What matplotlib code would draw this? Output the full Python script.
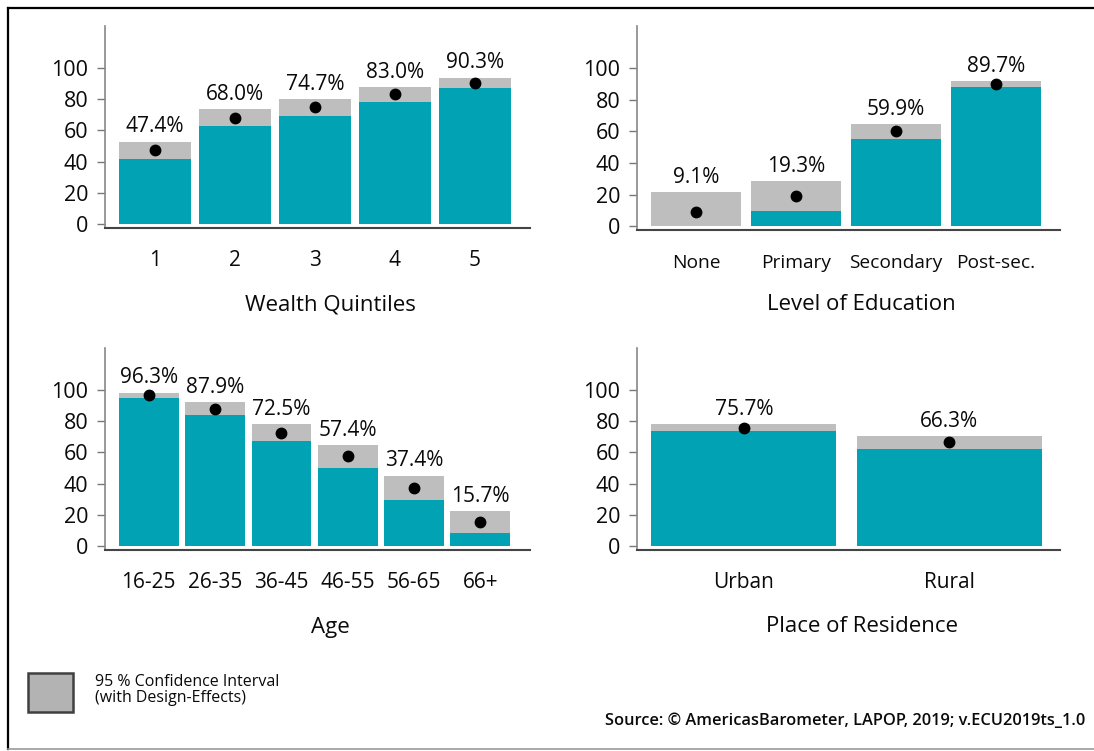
import matplotlib
matplotlib.use("Agg")
import matplotlib.pyplot as plt
from matplotlib import font_manager
from matplotlib.lines import Line2D
from matplotlib.patches import Rectangle
import numpy as np

plt.rcParams['font.family'] = ['Open Sans', 'DejaVu Sans']

# data (mean, lower / upper 95% CI)
wealth_labels = ['1', '2', '3', '4', '5']
wealth_mean = [47.4, 68.0, 74.7, 83.0, 90.3]
wealth_low = [41.8, 62.5, 69.3, 78.2, 86.7]
wealth_high = [52.8, 73.3, 79.7, 87.6, 93.6]

edu_labels = ['None', 'Primary', 'Secondary', 'Post-sec.']
edu_mean = [9.1, 19.3, 59.9, 89.7]
edu_low = [0.0, 9.8, 55.2, 87.7]
edu_high = [21.5, 28.7, 64.4, 91.5]

age_labels = ['16-25', '26-35', '36-45', '46-55', '56-65', '66+']
age_mean = [96.3, 87.9, 72.5, 57.4, 37.4, 15.7]
age_low = [94.5, 83.7, 67.1, 50.3, 29.5, 8.7]
age_high = [98.1, 92.1, 77.9, 64.5, 45.2, 22.5]

res_labels = ['Urban', 'Rural']
res_mean = [75.7, 66.3]
res_low = [73.5, 62.2]
res_high = [78.1, 70.5]

TEAL = '#00a2b3'
GREY = '#bebebe'
INK = '#0a0a0a'
W, H = 1094, 751

fig = plt.figure(figsize=(W / 100, H / 100), dpi=100)
fig.patch.set_facecolor('white')


def px_axes(left, top, right, bottom):
    return fig.add_axes([left / W, 1 - bottom / H, (right - left) / W, (bottom - top) / H])


def panel(ax, labels, mean, low, high, xlim, title, tick_size=15, tick_pad=16,
          width_px=425, height_px=202, title_drop=77):
    x = np.arange(len(labels))
    low = np.array(low)
    high = np.array(high)
    ax.bar(x, low, width=0.9, color=TEAL, edgecolor='none')
    ax.bar(x, high - low, bottom=low, width=0.9, color=GREY, edgecolor='none')
    ax.plot(x, mean, 'o', color='black', markersize=7.5, zorder=3)
    for xi, m, h in zip(x, mean, high):
        ax.annotate(f'{m:.1f}%', (xi, h), xytext=(0, 3), textcoords='offset points',
                    ha='center', va='bottom', fontsize=15, color=INK)
    ax.set_xlim(*xlim)
    ax.set_ylim(-2.3, 126.5)
    ax.set_yticks([0, 20, 40, 60, 80, 100])
    ax.set_xticks(x, labels)
    ax.tick_params(axis='y', length=6, width=1, color='#777777', labelsize=15.5, pad=6, labelcolor=INK)
    ax.tick_params(axis='x', length=0, labelsize=tick_size, pad=tick_pad, labelcolor=INK)
    for s in ['top', 'right']:
        ax.spines[s].set_visible(False)
    ax.spines['left'].set_color('#888888')
    ax.spines['left'].set_linewidth(1.2)
    ax.spines['bottom'].set_color('#444444')
    ax.spines['bottom'].set_linewidth(1.5)
    ax.set_xlabel(title, fontsize=16, va='center', color=INK)
    ax.xaxis.set_label_coords(0.5 + 13 / width_px, -title_drop / height_px)


ax1 = px_axes(105, 26, 530, 228)
panel(ax1, wealth_labels, wealth_mean, wealth_low, wealth_high, (-0.625, 4.69), 'Wealth Quintiles')

ax2 = px_axes(637, 26, 1060, 230)
panel(ax2, edu_labels, edu_mean, edu_low, edu_high, (-0.59, 3.64), 'Level of Education',
      tick_size=13.8, tick_pad=17, width_px=423, height_px=204, title_drop=75)

ax3 = px_axes(105, 348, 530, 550)
panel(ax3, age_labels, age_mean, age_low, age_high, (-0.66, 5.75), 'Age')

ax4 = px_axes(637, 348, 1060, 550)
panel(ax4, res_labels, res_mean, res_low, res_high, (-0.52, 1.54), 'Place of Residence',
      width_px=423)

# legend box for the confidence interval
fig.add_artist(Rectangle((28 / W, 1 - 712 / H), 45 / W, 39 / H, transform=fig.transFigure,
                         facecolor='#b3b3b3', edgecolor='#404040', linewidth=1.8))
names = {f.name for f in font_manager.fontManager.ttflist}
narrow = 'Liberation Sans Narrow' if 'Liberation Sans Narrow' in names else 'Open Sans'
fig.text(95 / W, 1 - 690 / H, '95 % Confidence Interval\n(with Design-Effects)', family=narrow,
         fontsize=11.5, va='center', ha='left', linespacing=0.95, color=INK)

fig.text(1085 / W, 1 - 721 / H, 'Source: © AmericasBarometer, LAPOP, 2019; v.ECU2019ts_1.0',
         fontsize=11.8, weight='semibold', ha='right', va='center', color=INK)

# outer frame
fig.add_artist(Line2D([8 / W, 1.0], [1 - 8 / H, 1 - 8 / H], transform=fig.transFigure, color='black', lw=1.6))
fig.add_artist(Line2D([8 / W, 8 / W], [1 - 8 / H, 1 - 749 / H], transform=fig.transFigure, color='black', lw=1.6))
fig.add_artist(Line2D([8 / W, 1.0], [1 - 749 / H, 1 - 749 / H], transform=fig.transFigure, color='#999999', lw=1.2))

fig.savefig('out.png', dpi=100)
